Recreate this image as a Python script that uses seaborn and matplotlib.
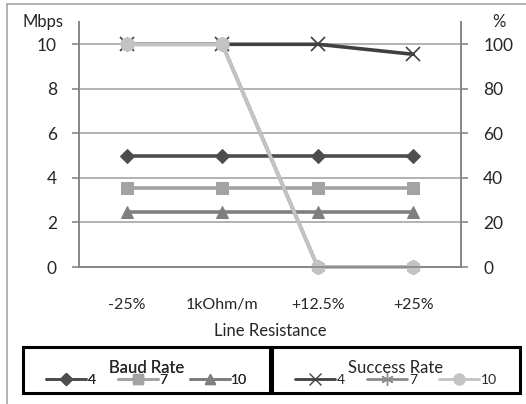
import pandas as pd
import seaborn as sns
import matplotlib.pyplot as plt
from matplotlib.lines import Line2D
from matplotlib.patches import Rectangle

categories = ['-25%', '1kOhm/m', '+12.5%', '+25%']
baud_4 = [5, 5, 5, 5]
baud_7 = [3.55, 3.55, 3.55, 3.55]
baud_10 = [2.45, 2.45, 2.45, 2.45]
success_4 = [100, 100, 100, 95.5]
success_7 = [100, 100, 0, 0]
success_10 = [100, 100, 0, 0]

sns.set_style('white')
plt.rcParams['font.family'] = ['Lato', 'DejaVu Sans']

W, H = 526, 404
fig = plt.figure(figsize=(W / 100, H / 100), dpi=100)
fig.patches.append(Rectangle((7 / W, -0.1), 1.2, 1 - 4 / H + 0.1, transform=fig.transFigure,
                             fill=False, edgecolor='#a6a6a6', linewidth=1.2))

ax = fig.add_axes([79 / W, 1 - 267 / H, (461 - 79) / W, (267 - 22) / H])
ax2 = ax.twinx()

baud_styles = [(baud_4, '#4d4d4d', 'D', 7), (baud_7, '#a3a3a3', 's', 8), (baud_10, '#7f7f7f', '^', 8)]
succ_styles = [(success_4, '#404040', 'x', 10), (success_7, '#8c8c8c', (6, 2, 0), 10),
               (success_10, '#c3c3c3', 'o', 9)]

for vals, col, mk, ms in baud_styles:
    df = pd.DataFrame({'x': categories, 'y': vals})
    sns.lineplot(data=df, x='x', y='y', ax=ax, color=col, marker=mk, markersize=ms,
                 linewidth=2.6, markeredgecolor=col, sort=False, clip_on=False)
for vals, col, mk, ms in succ_styles:
    df = pd.DataFrame({'x': categories, 'y': vals})
    sns.lineplot(data=df, x='x', y='y', ax=ax2, color=col, marker=mk, markersize=ms,
                 linewidth=2.6, markeredgecolor=col, markeredgewidth=1.2, sort=False,
                 clip_on=False)

ax.set_xlim(-0.5, 3.5)
ax.set_ylim(0, 11)
ax2.set_ylim(0, 110)
ax.set_yticks(range(0, 11, 2))
ax2.set_yticks(range(0, 101, 20))
ax.yaxis.grid(True, color='#a6a6a6', linewidth=1.2)
ax.set_axisbelow(True)
ax.set_xticks(range(4))
ax.set_xticks([-0.5, 0.5, 1.5, 2.5, 3.5], minor=True)
ax.set_xticklabels(categories)
ax.tick_params(axis='x', which='major', length=0, pad=22, labelsize=11.5)
ax.tick_params(axis='x', which='minor', length=5, color='#868686', width=1.2, direction='out')
ax.tick_params(axis='y', length=5, color='#868686', width=1.2, direction='out', labelsize=12.5, pad=11)
ax2.tick_params(axis='y', length=5, color='#868686', width=1.2, direction='out', labelsize=12.5, pad=11)
for a in (ax, ax2):
    a.spines['top'].set_visible(False)
    for s in ('left', 'right', 'bottom'):
        a.spines[s].set_color('#868686')
        a.spines[s].set_linewidth(1.2)
ax.set_xlabel('Line Resistance', fontsize=12, labelpad=8)
ax.set_ylabel('')
ax2.set_ylabel('')
fig.text(43 / W, 1 - 22 / H, 'Mbps', fontsize=12, ha='center', va='center')
fig.text(499 / W, 1 - 22 / H, '%', fontsize=12, ha='center', va='center')


def handles(styles):
    out = []
    for vals, col, mk, ms in styles:
        out.append(Line2D([], [], color=col, marker=mk, markersize=ms - 1, linewidth=2,
                          markeredgecolor=col))
    return out


boxes = [(23, 270, baud_styles, 'Baud Rate'), (272, 520, succ_styles, 'Success Rate')]
legs = []
for x0, x1, styles, title in boxes:
    fig.patches.append(Rectangle((x0 / W, 1 - 393 / H), (x1 - x0) / W, 46 / H,
                                 transform=fig.transFigure, fill=False,
                                 edgecolor='black', linewidth=2.2))
    leg = fig.legend(handles(styles), ['4', '7', '10'], title=title, ncol=3,
                     loc='center', bbox_to_anchor=((x0 + x1) / 2 / W, 1 - 373 / H),
                     fontsize=10, title_fontsize=12, frameon=False,
                     handlelength=2.9, handletextpad=0.1, columnspacing=1.6,
                     borderpad=0, labelspacing=0.1, borderaxespad=0)
    leg._legend_box.sep = -1
    legs.append(leg)
fig.add_artist(legs[0])

fig.savefig('out.png', dpi=100)
